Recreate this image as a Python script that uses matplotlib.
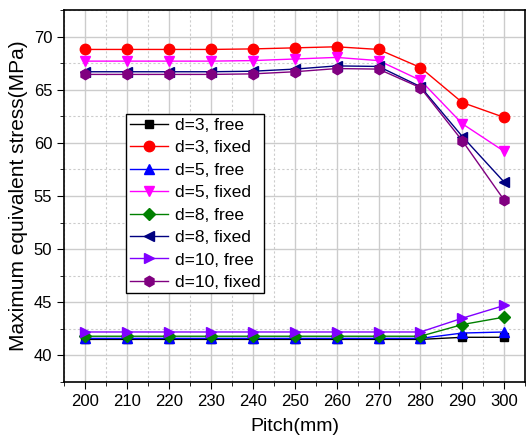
import matplotlib.pyplot as plt
from matplotlib.ticker import MultipleLocator

pitch = [200, 210, 220, 230, 240, 250, 260, 270, 280, 290, 300]

d3_free = [41.5, 41.5, 41.5, 41.5, 41.5, 41.5, 41.5, 41.5, 41.5, 41.7, 41.7]
d3_fixed = [68.8, 68.8, 68.8, 68.8, 68.85, 68.95, 69.05, 68.8, 67.1, 63.8, 62.4]
d5_free = [41.6, 41.6, 41.6, 41.6, 41.6, 41.6, 41.6, 41.6, 41.6, 42.1, 42.2]
d5_fixed = [67.7, 67.7, 67.7, 67.7, 67.75, 67.9, 68.05, 67.75, 65.9, 61.8, 59.2]
d8_free = [41.8, 41.8, 41.8, 41.8, 41.8, 41.8, 41.8, 41.8, 41.8, 42.9, 43.6]
d8_fixed = [66.7, 66.7, 66.7, 66.7, 66.75, 66.95, 67.25, 67.2, 65.3, 60.6, 56.3]
d10_free = [42.2, 42.2, 42.2, 42.2, 42.2, 42.2, 42.2, 42.2, 42.2, 43.5, 44.7]
d10_fixed = [66.45, 66.45, 66.45, 66.45, 66.5, 66.7, 67.0, 66.95, 65.2, 60.2, 54.6]

series = [
    (d3_free, 'd=3, free', 'black', 's'),
    (d3_fixed, 'd=3, fixed', 'red', 'o'),
    (d5_free, 'd=5, free', 'blue', '^'),
    (d5_fixed, 'd=5, fixed', 'magenta', 'v'),
    (d8_free, 'd=8, free', 'green', 'D'),
    (d8_fixed, 'd=8, fixed', 'navy', '<'),
    (d10_free, 'd=10, free', '#8000ff', '>'),
    (d10_fixed, 'd=10, fixed', 'purple', 'h'),
]

plt.rcParams['font.family'] = ['Liberation Sans', 'DejaVu Sans']

fig = plt.figure(figsize=(5.3, 4.41), dpi=100)
ax = fig.add_axes([0.121, 0.134, 0.870, 0.843])

for vals, lab, col, mk in series:
    ms = 6 if mk in ('D', 's') else 7.5
    ax.plot(pitch, vals, color=col, marker=mk, markersize=ms, linewidth=1, label=lab)

ax.set_xlim(195, 305)
ax.set_ylim(37.5, 72.5)
ax.xaxis.set_major_locator(MultipleLocator(10))
ax.xaxis.set_minor_locator(MultipleLocator(5))
ax.yaxis.set_major_locator(MultipleLocator(5))
ax.yaxis.set_minor_locator(MultipleLocator(2.5))
ax.grid(which='major', color='#cccccc', linewidth=1)
ax.grid(which='minor', color='#cccccc', linewidth=0.8, linestyle=(0, (2, 2)))
ax.set_axisbelow(True)
ax.tick_params(which='major', labelsize=12, length=5, direction='out')
ax.tick_params(which='minor', length=3, direction='out')
for s in ax.spines.values():
    s.set_linewidth(1.2)

ax.set_xlabel('Pitch(mm)', fontsize=14, labelpad=7)
ax.set_ylabel('Maximum equivalent stress(MPa)', fontsize=15)

leg = ax.legend(loc='upper left', bbox_to_anchor=(0.135, 0.72), fontsize=12.5,
                frameon=True, fancybox=False, edgecolor='black', framealpha=1,
                handlelength=2.2, labelspacing=0.42, borderpad=0.2, handletextpad=0.4,
                borderaxespad=0)
leg.get_frame().set_linewidth(1)

fig.savefig('out.png', dpi=100)
